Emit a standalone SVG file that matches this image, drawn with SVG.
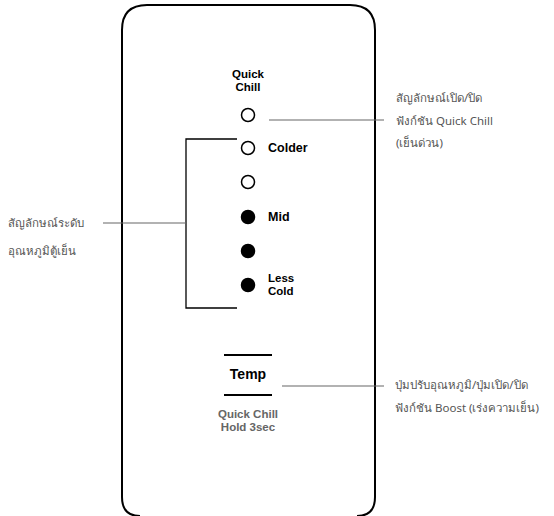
<svg xmlns="http://www.w3.org/2000/svg" width="554" height="516" viewBox="0 0 554 516">
<style>
.panel{fill:none;stroke:#000;stroke-width:2}
.led{stroke:#000;stroke-width:1.5}
.off{fill:#fff}
.on{fill:#000}
.lbl{font-family:"Liberation Sans",Arial,sans-serif;font-weight:bold;font-size:12.5px;fill:#000}
.two{font-size:11.5px}
.sub{font-family:"Liberation Sans",Arial,sans-serif;font-weight:bold;font-size:11.5px;fill:#666;text-anchor:middle}
.th{font-family:"Noto Sans","DejaVu Sans",sans-serif;font-size:11.5px;fill:#555}
.lead{stroke:#666;stroke-width:1.2;fill:none}
.br{stroke:#000;stroke-width:1.3;fill:none}
</style>
<rect width="554" height="516" fill="#fff"/>
<g id="panel">
<path class="panel" d="M140,516 Q122,516 122,497 L122,30 Q122,5 147,5 L350,5 Q375,5 375,30 L375,497 Q375,516 357,516"/>
</g>
<g id="quickchill-led">
<text class="lbl two" x="248" y="78" text-anchor="middle">Quick</text>
<text class="lbl two" x="248" y="91" text-anchor="middle">Chill</text>
<circle class="led off" cx="248" cy="115" r="6.5"/>
</g>
<g id="led-colder">
<circle class="led off" cx="248" cy="148" r="6.5"/>
<text class="lbl" x="268" y="152">Colder</text>
</g>
<g id="led-2"><circle class="led off" cx="248" cy="182" r="6.5"/></g>
<g id="led-mid">
<circle class="led on" cx="248" cy="217" r="6.5"/>
<text class="lbl" x="268" y="221">Mid</text>
</g>
<g id="led-4"><circle class="led on" cx="248" cy="251" r="6.5"/></g>
<g id="led-lesscold">
<circle class="led on" cx="248" cy="285" r="6.5"/>
<text class="lbl two" x="268" y="282">Less</text>
<text class="lbl two" x="268" y="295">Cold</text>
</g>
<g id="temp-button">
<line x1="224" y1="355" x2="272" y2="355" stroke="#000" stroke-width="2"/>
<text x="248" y="379" text-anchor="middle" font-family="'Liberation Sans',Arial,sans-serif" font-weight="bold" font-size="14" fill="#000">Temp</text>
<line x1="224" y1="395" x2="272" y2="395" stroke="#000" stroke-width="2"/>
<text class="sub" x="248" y="418">Quick Chill</text>
<text class="sub" x="248" y="431">Hold 3sec</text>
</g>
<g id="connectors">
<line class="lead" x1="269" y1="120" x2="384" y2="120"/>
<polyline class="br" points="237,139 186,139 186,308 237,308"/>
<line class="lead" x1="103" y1="223" x2="186" y2="223"/>
<line class="lead" x1="282" y1="386" x2="384" y2="386"/>
</g>
<g id="label-quickchill">
<text class="th" x="396" y="102">สัญลักษณ์เปิด/ปิด</text>
<text class="th" x="396" y="125">ฟังก์ชัน Quick Chill</text>
<text class="th" x="396" y="147">(เย็นด่วน)</text>
</g>
<g id="label-level">
<text class="th" x="8" y="227">สัญลักษณ์ระดับ</text>
<text class="th" x="8" y="255">อุณหภูมิตู้เย็น</text>
</g>
<g id="label-temp">
<text class="th" x="395" y="389">ปุ่มปรับอุณหภูมิ/ปุ่มเปิด/ปิด</text>
<text class="th" x="395" y="412">ฟังก์ชัน Boost (เร่งความเย็น)</text>
</g>
</svg>
